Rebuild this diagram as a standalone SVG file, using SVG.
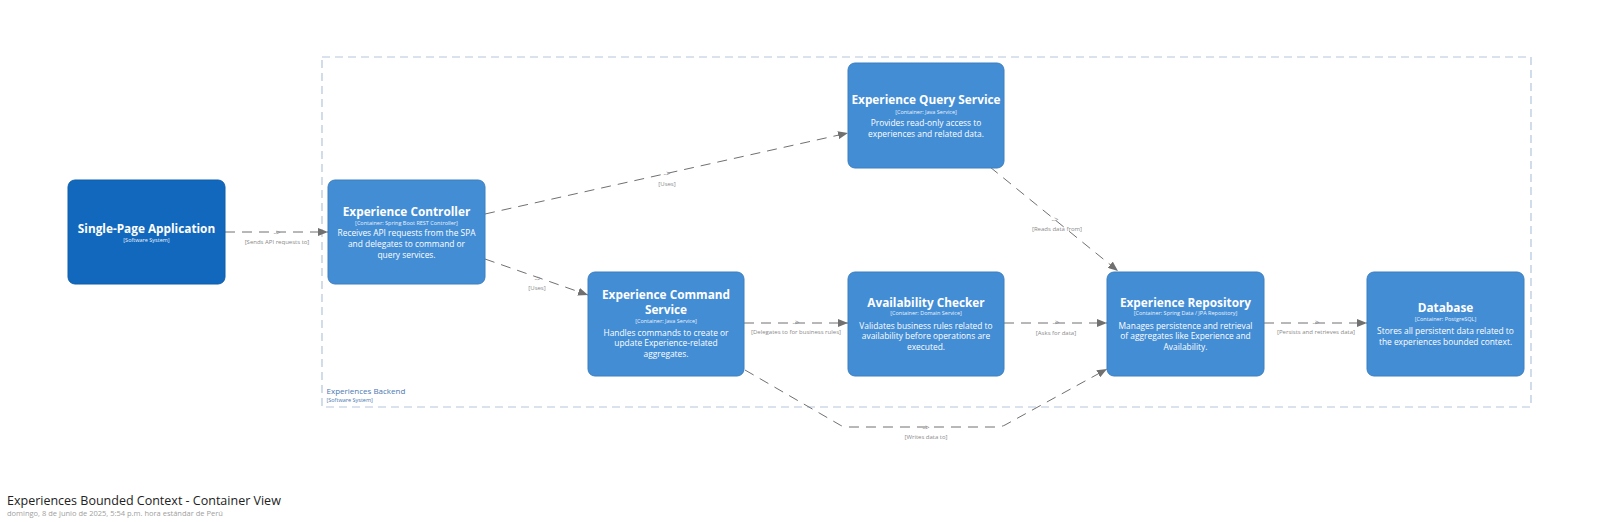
<svg xmlns="http://www.w3.org/2000/svg" width="1600" height="522" viewBox="0 0 1600 522">
<defs>
<style>
.node{fill:#438dd5;stroke:#3c7fc0;stroke-width:1}
.sys{fill:#1168bd;stroke:#0f5eaa;stroke-width:1}
.t{font-family:"Open Sans","Liberation Sans",sans-serif;fill:#ffffff;text-anchor:middle}
.ttl{font-size:11.8px;font-weight:bold}
.sub{font-size:5.5px;fill:#eaf2fb}
.desc{font-size:8.4px}
.edge{fill:none;stroke:#707070;stroke-width:1;stroke-dasharray:10 7}
.lbl{font-family:"Open Sans","Liberation Sans",sans-serif;font-size:6px;fill:#8a8a8a;text-anchor:middle}
.arr{font-family:"Open Sans","Liberation Sans",sans-serif;font-size:8px;fill:#8a8a8a;text-anchor:middle}
</style>
<marker id="ah" markerUnits="userSpaceOnUse" markerWidth="10" markerHeight="8" refX="10" refY="4" orient="auto">
<path d="M0,0 L10,4 L0,8 z" fill="#707070"/>
</marker>
</defs>
<rect width="1600" height="522" fill="#ffffff"/>

<g id="boundary">
<rect x="322" y="57" width="1209" height="350" fill="none" stroke="#b4c6dc" stroke-width="1.2" stroke-dasharray="8 5"/>
<text x="326.5" y="393.5" font-family="'Open Sans','Liberation Sans',sans-serif" font-size="8px" fill="#4a78b0">Experiences Backend</text>
<text x="326.5" y="402" font-family="'Open Sans','Liberation Sans',sans-serif" font-size="5.5px" fill="#4a78b0">[Software System]</text>
</g>

<g id="connectors">
<path class="edge" d="M225,232 L328,232" marker-end="url(#ah)"/>
<text class="arr" x="277" y="234.5">-&gt;</text>
<text class="lbl" x="277" y="243.7">[Sends API requests to]</text>

<path class="edge" d="M485,214 L848,133" marker-end="url(#ah)"/>
<text class="arr" x="667" y="176">-&gt;</text>
<text class="lbl" x="667" y="185.5">[Uses]</text>

<path class="edge" d="M485,259 L588,295" marker-end="url(#ah)"/>
<text class="arr" x="538" y="280.5">-&gt;</text>
<text class="lbl" x="537" y="289.5">[Uses]</text>

<path class="edge" d="M744,323 L848,323" marker-end="url(#ah)"/>
<text class="arr" x="796" y="325">-&gt;</text>
<text class="lbl" x="796" y="334.3">[Delegates to for business rules]</text>

<path class="edge" d="M1004,323 L1107,323" marker-end="url(#ah)"/>
<text class="arr" x="1056" y="325">-&gt;</text>
<text class="lbl" x="1056" y="335.3">[Asks for data]</text>

<path class="edge" d="M1264,323 L1367,323" marker-end="url(#ah)"/>
<text class="arr" x="1316" y="325">-&gt;</text>
<text class="lbl" x="1316" y="334.3">[Persists and retrieves data]</text>

<path class="edge" d="M990,167 L1118,271" marker-end="url(#ah)"/>
<text class="arr" x="1055" y="222">-&gt;</text>
<text class="lbl" x="1057" y="231">[Reads data from]</text>

<path class="edge" d="M745,370 L840,425 Q843,427 848,427 L996,427 Q1001,427 1005,425 L1107,369" marker-end="url(#ah)"/>
<text class="arr" x="926" y="429.5">-&gt;</text>
<text class="lbl" x="926" y="438.7">[Writes data to]</text>
</g>

<g id="spa">
<rect class="sys" x="68" y="180" width="157" height="104" rx="7"/>
<text class="t ttl" x="146.5" y="233">Single-Page Application</text>
<text class="t sub" x="146.5" y="242">[Software System]</text>
</g>

<g id="controller">
<rect class="node" x="328" y="180" width="157" height="104" rx="7"/>
<text class="t ttl" x="406.5" y="216">Experience Controller</text>
<text class="t sub" x="406.5" y="224.7">[Container: Spring Boot REST Controller]</text>
<text class="t desc" x="406.5" y="236.3">Receives API requests from the SPA</text>
<text class="t desc" x="406.5" y="247">and delegates to command or</text>
<text class="t desc" x="406.5" y="257.7">query services.</text>
</g>

<g id="query">
<rect class="node" x="848" y="63" width="156" height="105" rx="7"/>
<text class="t ttl" x="926" y="103.7">Experience Query Service</text>
<text class="t sub" x="926" y="113.7">[Container: Java Service]</text>
<text class="t desc" x="926" y="126.3">Provides read-only access to</text>
<text class="t desc" x="926" y="136.7">experiences and related data.</text>
</g>

<g id="command">
<rect class="node" x="588" y="272" width="156" height="104" rx="7"/>
<text class="t ttl" x="666" y="299.4">Experience Command</text>
<text class="t ttl" x="666" y="313.7">Service</text>
<text class="t sub" x="666" y="323">[Container: Java Service]</text>
<text class="t desc" x="666" y="335.5">Handles commands to create or</text>
<text class="t desc" x="666" y="346">update Experience-related</text>
<text class="t desc" x="666" y="356.5">aggregates.</text>
</g>

<g id="availability">
<rect class="node" x="848" y="272" width="156" height="104" rx="7"/>
<text class="t ttl" x="926" y="307">Availability Checker</text>
<text class="t sub" x="926" y="315.3">[Container: Domain Service]</text>
<text class="t desc" x="926" y="328.5">Validates business rules related to</text>
<text class="t desc" x="926" y="339">availability before operations are</text>
<text class="t desc" x="926" y="349.5">executed.</text>
</g>

<g id="repository">
<rect class="node" x="1107" y="272" width="157" height="104" rx="7"/>
<text class="t ttl" x="1185.5" y="307">Experience Repository</text>
<text class="t sub" x="1185.5" y="315.3">[Container: Spring Data / JPA Repository]</text>
<text class="t desc" x="1185.5" y="328.7">Manages persistence and retrieval</text>
<text class="t desc" x="1185.5" y="339.2">of aggregates like Experience and</text>
<text class="t desc" x="1185.5" y="349.7">Availability.</text>
</g>

<g id="database">
<rect class="node" x="1367" y="272" width="157" height="104" rx="7"/>
<text class="t ttl" x="1445.5" y="312">Database</text>
<text class="t sub" x="1445.5" y="321.3">[Container: PostgreSQL]</text>
<text class="t desc" x="1445.5" y="334">Stores all persistent data related to</text>
<text class="t desc" x="1445.5" y="344.5">the experiences bounded context.</text>
</g>

<g id="title">
<text x="7" y="505" font-family="'Open Sans','Liberation Sans',sans-serif" font-size="12.5px" fill="#222222">Experiences Bounded Context - Container View</text>
<text x="7" y="516" font-family="'Open Sans','Liberation Sans',sans-serif" font-size="7.5px" fill="#a0a0a0">domingo, 8 de junio de 2025, 5:54 p.m. hora estándar de Perú</text>
</g>
</svg>
